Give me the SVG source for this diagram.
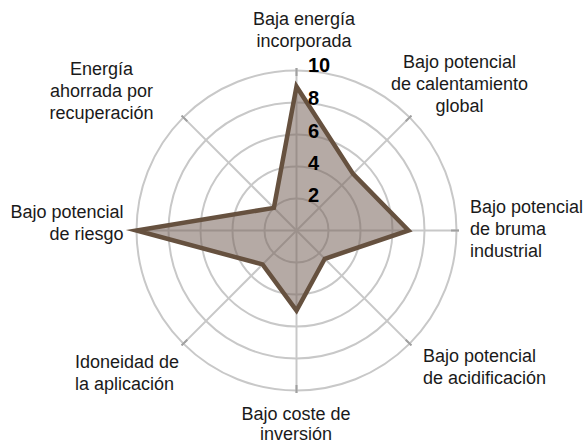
<svg xmlns="http://www.w3.org/2000/svg" width="587" height="443" viewBox="0 0 587 443">
<style>
.ring{fill:none;stroke:#c8c8c8;stroke-width:2}
.axis{stroke:#c8c8c8;stroke-width:2}
.tick{stroke:#a0a0a0;stroke-width:2}
.lbl{font-family:"Liberation Sans",Arial,sans-serif;font-size:18px;fill:#1a1a1a}
.num{font-family:"Liberation Sans",Arial,sans-serif;font-size:20px;font-weight:bold;fill:#000}
.data{fill:#78645b;fill-opacity:0.55;stroke:#66513f;stroke-width:4.5;stroke-linejoin:miter;stroke-miterlimit:20}
</style>
<rect width="587" height="443" fill="#fff"/>
<g id="grid">
<circle class="ring" cx="296.5" cy="230.5" r="32"/>
<circle class="ring" cx="296.5" cy="230.5" r="64"/>
<circle class="ring" cx="296.5" cy="230.5" r="96"/>
<circle class="ring" cx="296.5" cy="230.5" r="128"/>
<circle class="ring" cx="296.5" cy="230.5" r="160"/>
</g>
<g id="connectors">
<line class="axis" x1="296.5" y1="230.5" x2="296.5" y2="68"/>
<line class="axis" x1="296.5" y1="230.5" x2="411.4" y2="115.6"/>
<line class="axis" x1="296.5" y1="230.5" x2="459" y2="230.5"/>
<line class="axis" x1="296.5" y1="230.5" x2="411.4" y2="345.4"/>
<line class="axis" x1="296.5" y1="230.5" x2="296.5" y2="393"/>
<line class="axis" x1="296.5" y1="230.5" x2="181.6" y2="345.4"/>
<line class="axis" x1="296.5" y1="230.5" x2="134" y2="230.5"/>
<line class="axis" x1="296.5" y1="230.5" x2="181.6" y2="115.6"/>
<line class="tick" x1="296.5" y1="76" x2="296.5" y2="68"/>
<line class="tick" x1="405.7" y1="121.3" x2="411.4" y2="115.6"/>
<line class="tick" x1="451" y1="230.5" x2="459" y2="230.5"/>
<line class="tick" x1="405.7" y1="339.7" x2="411.4" y2="345.4"/>
<line class="tick" x1="296.5" y1="385" x2="296.5" y2="393"/>
<line class="tick" x1="187.3" y1="339.7" x2="181.6" y2="345.4"/>
<line class="tick" x1="142" y1="230.5" x2="134" y2="230.5"/>
<line class="tick" x1="187.3" y1="121.3" x2="181.6" y2="115.6"/>
</g>
<g id="series">
<polygon class="data" points="296.5,86.5 353.07,173.93 408.5,230.5 324.78,258.78 296.5,310.5 262.56,264.44 136.5,230.5 273.87,207.87"/>
</g>
<g id="scale">
<text class="num" x="308" y="202">2</text>
<text class="num" x="308" y="170">4</text>
<text class="num" x="308" y="137.5">6</text>
<text class="num" x="308" y="104.5">8</text>
<text class="num" x="308" y="72">10</text>
</g>
<g id="label-n">
<text class="lbl" text-anchor="middle" x="304" y="25">Baja energía</text>
<text class="lbl" text-anchor="middle" x="304" y="46.5">incorporada</text>
</g>
<g id="label-ne">
<text class="lbl" text-anchor="middle" x="459.5" y="68">Bajo potencial</text>
<text class="lbl" text-anchor="middle" x="459.5" y="90">de calentamiento</text>
<text class="lbl" text-anchor="middle" x="459.5" y="112">global</text>
</g>
<g id="label-e">
<text class="lbl" x="470" y="213">Bajo potencial</text>
<text class="lbl" x="470" y="235">de bruma</text>
<text class="lbl" x="470" y="257">industrial</text>
</g>
<g id="label-se">
<text class="lbl" x="423" y="362">Bajo potencial</text>
<text class="lbl" x="423" y="383.5">de acidificación</text>
</g>
<g id="label-s">
<text class="lbl" text-anchor="middle" x="296" y="420">Bajo coste de</text>
<text class="lbl" text-anchor="middle" x="296" y="440">inversión</text>
</g>
<g id="label-sw">
<text class="lbl" x="75" y="368">Idoneidad de</text>
<text class="lbl" x="75" y="390">la aplicación</text>
</g>
<g id="label-w">
<text class="lbl" text-anchor="end" x="123.5" y="218">Bajo potencial</text>
<text class="lbl" text-anchor="end" x="123.5" y="240">de riesgo</text>
</g>
<g id="label-nw">
<text class="lbl" text-anchor="middle" x="101.5" y="75">Energía</text>
<text class="lbl" text-anchor="middle" x="101.5" y="97">ahorrada por</text>
<text class="lbl" text-anchor="middle" x="101.5" y="118.5">recuperación</text>
</g>
</svg>
